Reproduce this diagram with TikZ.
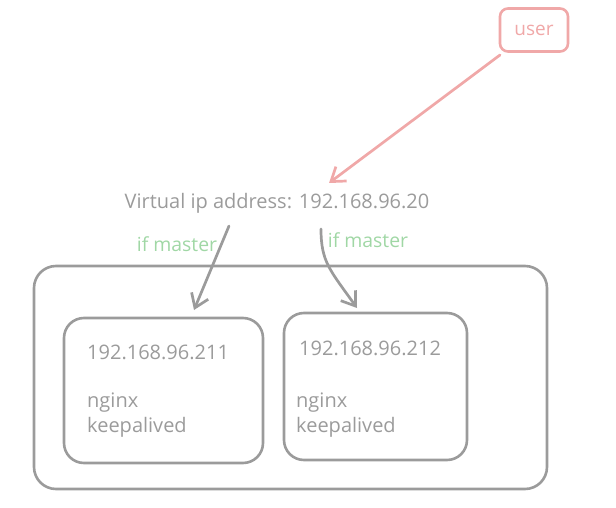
\documentclass[tikz,border=0pt]{standalone}
\usepackage{fontspec}
\setmainfont{Open Sans}
\usetikzlibrary{arrows.meta}
\definecolor{lgray}{RGB}{155,155,155}
\definecolor{tgray}{RGB}{155,155,155}
\definecolor{pinkc}{RGB}{240,168,168}
\definecolor{greenc}{RGB}{160,215,165}
\begin{document}
\begin{tikzpicture}[x=1pt,y=-1pt,
  txt/.style={font=\fontsize{20}{24}\selectfont, text=tgray, inner sep=0pt},
  gtxt/.style={font=\fontsize{19.4}{23}\selectfont, text=greenc, inner sep=0pt},
  boxg/.style={draw=lgray, line width=2.6pt, rounded corners=20pt},
  arr/.style={line width=2.7pt, -{Straight Barb[length=13pt,width=18pt,line width=2.7pt]}, line cap=round}
]
\useasboundingbox (0,0) rectangle (616,508);
% user
\node[draw=pinkc, line width=2.6pt, rounded corners=8pt, minimum width=68pt, minimum height=43pt,
  font=\fontsize{19}{22}\selectfont, text=pinkc] (user) at (534,30) {user};
% virtual ip
\node[txt] (vip) at (277,203) {Virtual ip address: 192.168.96.20};
\coordinate (pinkend) at (329,183);
\coordinate (pinkstart) at (500,55);
\draw[arr, draw=pinkc] (pinkstart) -- (pinkend);
% outer box
\draw[boxg, rounded corners=22pt] (34,266) rectangle (547,489);
\node[boxg, minimum width=199pt, minimum height=145pt, inner sep=0pt] (b1) at (163.5,390.5) {};
\node[boxg, minimum width=183pt, minimum height=147pt, inner sep=0pt] (b2) at (375.5,386.5) {};
% texts inside boxes
\node[txt, anchor=west] (ip1) at (87,352) {192.168.96.211};
\node[txt, anchor=west] (ng1) at (87,403) {nginx};
\node[txt, anchor=west] (ka1) at (87,427) {keepalived};
\node[txt, anchor=west] (ip2) at (299,348) {192.168.96.212};
\node[txt, anchor=west] (ng2) at (296,403) {nginx};
\node[txt, anchor=west] (ka2) at (296,427) {keepalived};
% arrows to boxes
\coordinate (l1) at (229,226);
\coordinate (l2) at (194,310);
\coordinate (r1) at (321,229);
\coordinate (r2) at (357,308);
\draw[arr, draw=lgray] (l1) -- (l2);
\draw[arr, draw=lgray] (r1) .. controls (321,262) and (330,270) .. (r2);
% labels
\node[gtxt] (m1) at (177,244) {if master};
\node[gtxt] (m2) at (368,240) {if master};
\end{tikzpicture}
\end{document}
